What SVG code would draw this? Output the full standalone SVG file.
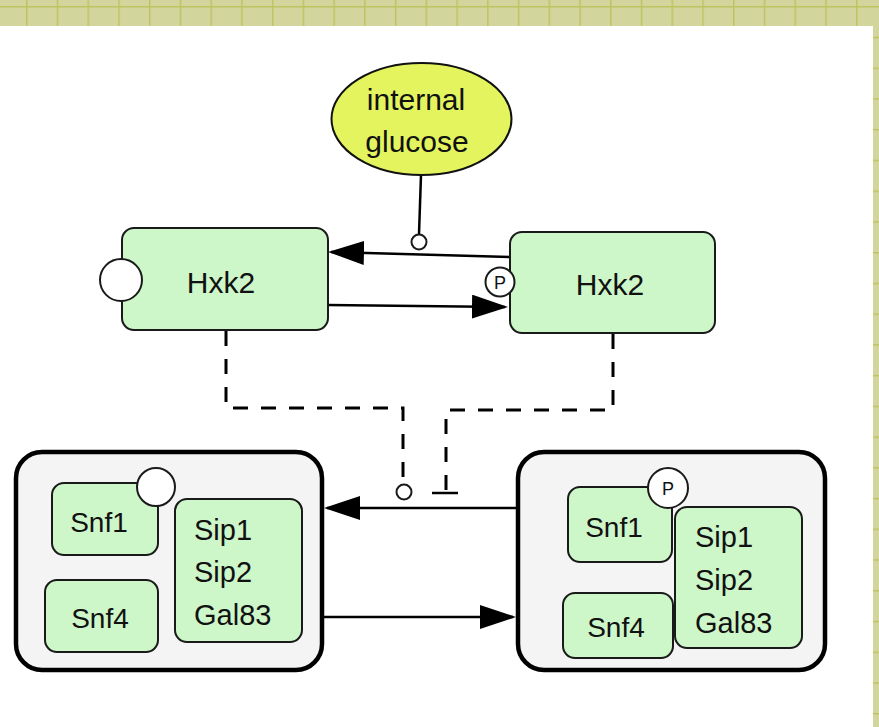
<svg xmlns="http://www.w3.org/2000/svg" width="879" height="727" viewBox="0 0 879 727">
  <defs>
    <pattern id="grid" patternUnits="userSpaceOnUse" x="26" y="6" width="30.74" height="30.74">
      <rect width="30.74" height="30.74" fill="#d3d69c"/>
      <path d="M0.7,0 V30.74 M0,0.7 H30.74" stroke="#bcc460" stroke-width="1.5" fill="none"/>
    </pattern>
    <marker id="arrow" markerUnits="userSpaceOnUse" markerWidth="36" markerHeight="24" viewBox="0 0 36 24" refX="33" refY="12" orient="auto">
      <path d="M0,0 L36,12 L0,24 Z" fill="#000"/>
    </marker>
  </defs>
  <style>
    text { font-family: "Liberation Sans", Arial, sans-serif; fill: #111; }
    .lbl { font-size: 28px; text-anchor: middle; }
    .hx { font-size: 30px; }
    .sub { font-size: 29px; }
    .gl { font-size: 30px; text-anchor: middle; }
    .p { font-size: 18px; text-anchor: middle; }
    .prot { fill: #cdf6c9; stroke: #1a1a1a; stroke-width: 2; }
    .cplx { fill: #f4f4f4; stroke: #000; stroke-width: 4.5; }
    .site { fill: #fff; stroke: #1a1a1a; stroke-width: 2; }
    .edge { fill: none; stroke: #000; stroke-width: 2.5; }
    .dash { fill: none; stroke: #000; stroke-width: 3; stroke-dasharray: 15 13; }
  </style>

  <!-- page background with grid margin -->
  <rect width="879" height="727" fill="url(#grid)"/>
  <rect x="0" y="26" width="873" height="701" fill="#fff"/>

  <!-- connectors -->
  <g id="connectors">
    <!-- glucose modulates the Hxk2 phospho/dephospho step -->
    <line class="edge" x1="421" y1="175" x2="419" y2="234"/>
    <circle class="site" cx="419" cy="242" r="7.5"/>
    <!-- Hxk2 transitions -->
    <line class="edge" x1="510" y1="257" x2="331" y2="252" marker-end="url(#arrow)"/>
    <line class="edge" x1="328" y1="305" x2="505" y2="307" marker-end="url(#arrow)"/>
    <!-- Hxk2 influences on Snf1 -->
    <path class="dash" d="M226,331 V408 H403 V485"/>
    <circle class="site" cx="404" cy="492" r="7.5"/>
    <path class="dash" d="M613,334 V410 H446 V492"/>
    <line class="edge" x1="432" y1="493" x2="458" y2="493" stroke-width="3"/>
    <!-- Snf1 complex transitions -->
    <line class="edge" x1="518" y1="508" x2="327" y2="508" marker-end="url(#arrow)"/>
    <line class="edge" x1="322" y1="617" x2="513" y2="617" marker-end="url(#arrow)"/>
  </g>

  <!-- internal glucose -->
  <g id="glucose">
    <ellipse cx="421.5" cy="119" rx="90" ry="56" fill="#e3f45e" stroke="#111" stroke-width="2"/>
    <text class="gl" x="416" y="110">internal</text>
    <text class="gl" x="417" y="152">glucose</text>
  </g>

  <!-- Hxk2, unmodified -->
  <g id="hxk2">
    <rect class="prot" x="122" y="228" width="206" height="102" rx="12"/>
    <circle class="site" cx="121" cy="280" r="21"/>
    <text class="lbl hx" x="221" y="293">Hxk2</text>
  </g>

  <!-- Hxk2, phosphorylated -->
  <g id="hxk2-p">
    <rect class="prot" x="510" y="232" width="205" height="101" rx="12"/>
    <circle class="site" cx="500" cy="282" r="14.5"/>
    <text class="p" x="500" y="288.5">P</text>
    <text class="lbl hx" x="610" y="295">Hxk2</text>
  </g>

  <!-- Snf1 complex, unmodified -->
  <g id="snf1-complex">
    <rect class="cplx" x="16" y="452" width="306" height="218" rx="26"/>
    <rect class="prot" x="52" y="483" width="106" height="72" rx="12"/>
    <circle class="site" cx="156" cy="487" r="19"/>
    <text class="lbl" x="99" y="532">Snf1</text>
    <rect class="prot" x="45" y="580" width="113" height="72" rx="12"/>
    <text class="lbl" x="100" y="628">Snf4</text>
    <rect class="prot" x="175" y="499" width="127" height="143" rx="12"/>
    <text class="sub" x="194" y="540">Sip1</text>
    <text class="sub" x="194" y="582">Sip2</text>
    <text class="sub" x="194" y="625">Gal83</text>
  </g>

  <!-- Snf1 complex, phosphorylated -->
  <g id="snf1-complex-p">
    <rect class="cplx" x="518" y="452" width="307" height="218" rx="26"/>
    <rect class="prot" x="568" y="487" width="104" height="75" rx="12"/>
    <circle class="site" cx="668" cy="488" r="20"/>
    <text class="p" x="668" y="495">P</text>
    <text class="lbl" x="614" y="537">Snf1</text>
    <rect class="prot" x="563" y="593" width="110" height="65" rx="12"/>
    <text class="lbl" x="616" y="637">Snf4</text>
    <rect class="prot" x="675" y="507" width="127" height="141" rx="12"/>
    <text class="sub" x="695" y="547">Sip1</text>
    <text class="sub" x="695" y="590">Sip2</text>
    <text class="sub" x="695" y="633">Gal83</text>
  </g>
</svg>
